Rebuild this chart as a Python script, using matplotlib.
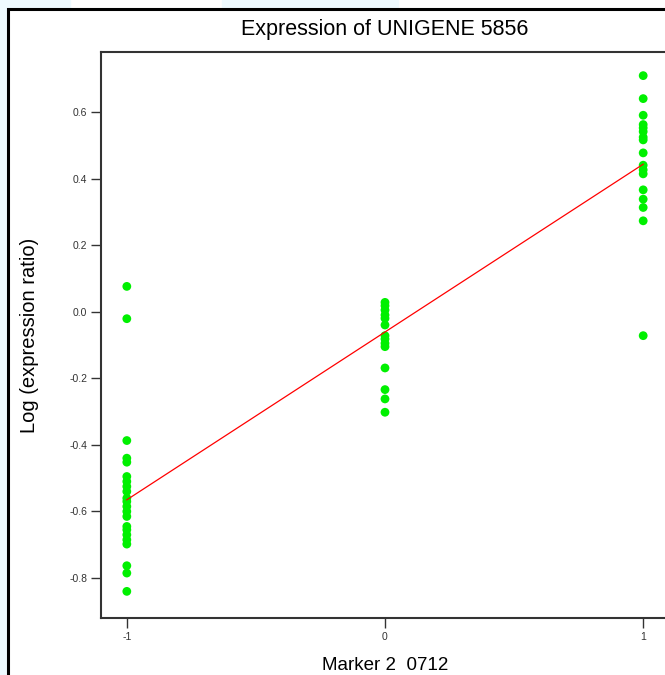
import numpy as np
import matplotlib
matplotlib.use("Agg")
import matplotlib.pyplot as plt
from matplotlib.patches import Rectangle

# values
genotype = [-1, 0, 1]
expr_m1 = [0.076, -0.021, -0.387, -0.440, -0.452, -0.495, -0.510, -0.525, -0.540, -0.560, -0.570,
           -0.585, -0.600, -0.615, -0.645, -0.655, -0.670, -0.685, -0.698, -0.763, -0.785, -0.840]
expr_0 = [0.028, 0.018, 0.005, -0.010, -0.020, -0.040, -0.072, -0.082, -0.095, -0.105,
          -0.169, -0.234, -0.262, -0.302]
expr_p1 = [0.709, 0.640, 0.590, 0.562, 0.552, 0.541, 0.524, 0.516, 0.477, 0.440, 0.426,
           0.414, 0.366, 0.338, 0.313, 0.273, -0.072]
fit_intercept = -0.061
fit_slope = 0.504
yticks = [-0.8, -0.6, -0.4, -0.2, 0.0, 0.2, 0.4, 0.6]

plt.rcParams['font.family'] = ['Liberation Sans Narrow', 'Liberation Sans', 'DejaVu Sans']

W, H = 665, 675
fig = plt.figure(figsize=(W / 100, H / 100), dpi=100)
fig.patch.set_facecolor('white')

# light blue slide background peeking round the frame
bg = '#eefaff'
fig.patches.append(Rectangle((0, 0), 8 / W, 1, transform=fig.transFigure, color=bg, zorder=0))
for x0, x1 in [(0, 70), (222, 398)]:
    fig.patches.append(Rectangle((x0 / W, 1 - 9 / H), (x1 - x0) / W, 9 / H,
                                 transform=fig.transFigure, color=bg, zorder=0))
# outer black frame
fig.patches.append(Rectangle((8 / W, -0.1), 1.2, 1 - 9 / H + 0.1, transform=fig.transFigure,
                             fill=False, edgecolor='black', lw=2.2, zorder=1))

ax = fig.add_axes([101 / W, 57 / H, 568 / W, 566 / H])
xs = np.concatenate([np.full(len(expr_m1), genotype[0]), np.full(len(expr_0), genotype[1]),
                     np.full(len(expr_p1), genotype[2])])
ys = np.concatenate([expr_m1, expr_0, expr_p1])
ax.scatter(xs, ys, s=40, color='#00f000', edgecolors='none', zorder=3)

lx = np.array([genotype[0], genotype[-1]])
ax.plot(lx, fit_intercept + fit_slope * lx, color='red', lw=0.9, zorder=4)

ax.set_xlim(-1.1, 1.1)
ax.set_ylim(-0.92, 0.78)
ax.set_xticks(genotype)
ax.set_xticklabels(['-1', '0', '1'])
ax.set_yticks(yticks)
ax.set_yticklabels(['%.1f' % v for v in yticks])
ax.tick_params(labelsize=7.5, length=7, width=1, color='#333333', labelcolor='#333333', pad=3)
for s in ax.spines.values():
    s.set_linewidth(1.5)
    s.set_color('#333333')

ax.set_title('Expression of UNIGENE 5856', fontsize=15.5, pad=12)
ax.set_xlabel('Marker 2  0712', fontsize=13.5, labelpad=11)
ax.set_ylabel('Log (expression ratio)', fontsize=14.5, labelpad=22)

fig.savefig('out.png', dpi=100)
